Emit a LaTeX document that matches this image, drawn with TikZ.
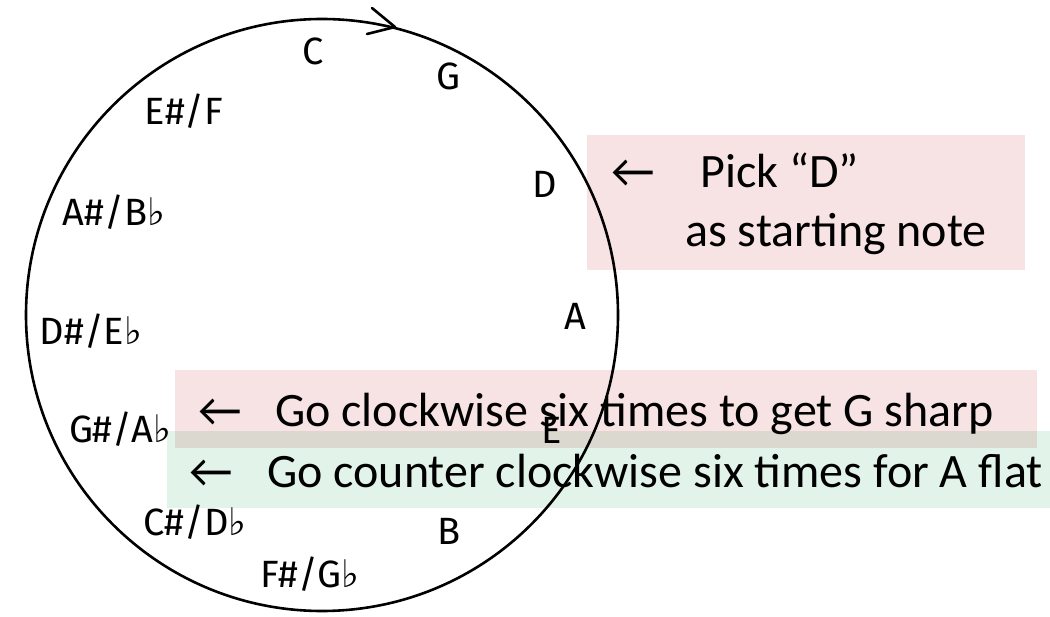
\documentclass[tikz,border=0pt]{standalone}
\usepackage{fontspec}
\setmainfont{Carlito}
\newfontfamily\handfont{Fira Sans}
\newfontfamily\symfont{DejaVu Sans}
\newcommand{\flatsign}{{\symfont\char"266D}}
\definecolor{notepink}{RGB}{248,227,228}
\definecolor{notegreen}{RGB}{226,243,233}

\begin{document}
\begin{tikzpicture}[x=1pt,y=-1pt,
  note/.style={font=\handfont\fontsize{38}{38}\selectfont, inner sep=0pt},
  remark/.style={font=\fontsize{48}{58}\selectfont, anchor=base west, inner sep=0pt},
  pointer/.style={font=\fontsize{48}{58}\selectfont, anchor=base west, inner sep=0pt},
  band/.style={blend mode=multiply, draw=none},
  ring/.style={line width=2.6pt, line cap=round, line join=round}]
\useasboundingbox (0,0) rectangle (1050,617);
\fill[white] (0,0) rectangle (1050,617);

% the circle of fifths
\coordinate (centre) at (322,315);
\draw[ring] (centre) circle[radius=296];
% open chevron on the rim, pointing clockwise
\draw[ring] (372,8) -- (395,27) -- (367,34);

% note names round the rim
\node[note] (nC)  at (313,51)  {C};
\node[note] (nG)  at (448,76)  {G};
\node[note] (nD)  at (545,184) {D};
\node[note] (nA)  at (575,316) {A};
\node[note] (nE)  at (552,430) {E};
\node[note] (nB)  at (449,531) {B};
\node[note] (nFs) at (310,574) {F\#/G\flatsign};
\node[note] (nCs) at (195,522) {C\#/D\flatsign};
\node[note] (nGs) at (120,429) {G\#/A\flatsign};
\node[note] (nDs) at (91,331)  {D\#/E\flatsign};
\node[note] (nAs) at (114,212) {A\#/B\flatsign};
\node[note] (nEs) at (184,111) {E\#/F};

% tinted bands behind the remarks
\fill[band, notepink]  (587,135) rectangle (1025,270);
\fill[band, notepink]  (175,370) rectangle (1037,448);
\fill[band, notegreen] (167,431) rectangle (1050,508);

% remarks
\node[pointer] (p1) at (611,188) {←};
\node[remark]  (t1) at (700,188) {Pick “D”};
\node[remark]  (t2) at (685,247) {as starting note};
\node[pointer] (p2) at (198,427) {←};
\node[remark]  (t3) at (275,427) {Go clockwise six times to get G sharp};
\node[pointer] (p3) at (189,487) {←};
\node[remark]  (t4) at (267,487) {Go counter clockwise six times for A flat};
\end{tikzpicture}
\end{document}
